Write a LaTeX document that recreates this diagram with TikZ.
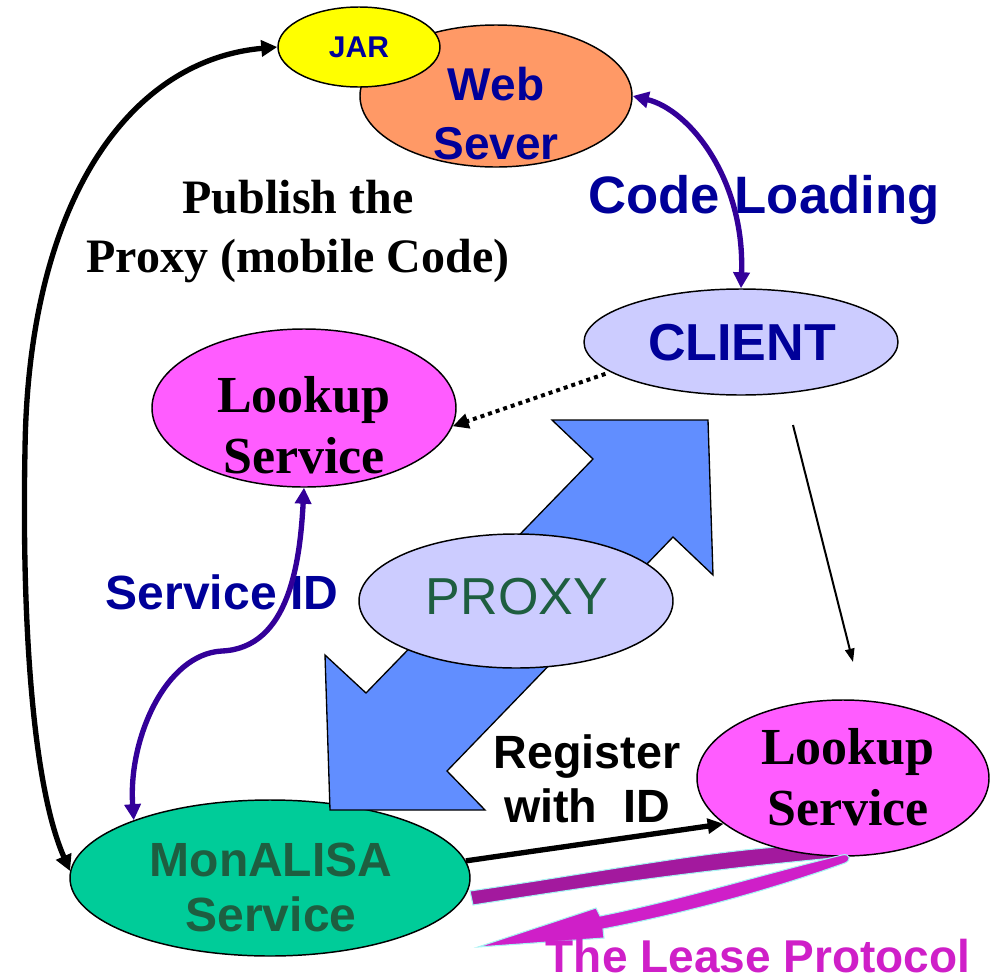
\documentclass[tikz,border=0pt]{standalone}
\usepackage{fontspec}
\setmainfont{Liberation Serif}
\setsansfont{Liberation Sans}
\usetikzlibrary{shapes.geometric,arrows.meta}
\definecolor{webor}{HTML}{FF9966}
\definecolor{jary}{HTML}{FFFF00}
\definecolor{dblue}{HTML}{000099}
\definecolor{purp}{HTML}{330099}
\definecolor{lav}{HTML}{CCCCFF}
\definecolor{mag}{HTML}{FF5CFF}
\definecolor{mgreen}{HTML}{00CC99}
\definecolor{dgreen}{HTML}{1E5E40}
\definecolor{bigblue}{HTML}{618EFF}
\definecolor{leasec}{HTML}{CF1FC8}
\definecolor{bandc}{HTML}{A3199E}
\definecolor{lcyan}{HTML}{A8F4F4}
\tikzset{
  ell/.style={ellipse, draw=black, line width=1.1pt, inner sep=0pt},
  txt/.style={inner sep=0pt, align=center},
  sfb/.style={font=\sffamily\bfseries\fontsize{#1}{#1}\selectfont},
  bigtip/.style={line width=4pt},
  Tri/.tip={Triangle[length=12pt,width=12pt]}
}
\begin{document}
\begin{tikzpicture}[x=0.75pt,y=-0.75pt]
\useasboundingbox (0,0) rectangle (990,979);
\fill[white] (0,0) rectangle (990,979);

% nodes (ellipses)
\node[ell, fill=mgreen, minimum width=300pt, minimum height=117pt] (mon) at (270,878) {};
\node[ell, fill=webor, minimum width=204pt, minimum height=106.5pt] (web) at (496,96) {};
\node[ell, fill=jary, minimum width=121.5pt, minimum height=60pt] (jar) at (359,47) {};
\node[ell, fill=lav, minimum width=235.5pt, minimum height=79.5pt] (client) at (741,342) {};
\node[ell, fill=mag, minimum width=228pt, minimum height=118.5pt] (lk1) at (304,408) {};

% big blue double arrow
\filldraw[fill=bigblue, draw=black, line width=1pt]
  (708,420) -- (552,420) -- (593,459) -- (366,693) -- (325,655) -- (330,810)
  -- (485,810) -- (447,771) -- (673,537) -- (713,575) -- cycle;
\node[ell, fill=lav, minimum width=235.5pt, minimum height=100.5pt] (proxy) at (516,601) {};

% lease protocol shapes
\filldraw[fill=bandc, draw=lcyan, line width=0.8pt]
  (470,891) .. controls (600,872) and (700,852) .. (790,846) -- (845,857)
  .. controls (700,870) and (600,885) .. (473,905) -- cycle;
\node[ell, fill=mag, minimum width=219pt, minimum height=117pt] (lk2) at (843,778) {};
\filldraw[fill=leasec, draw=lcyan, line width=0.8pt]
  (842,855) .. controls (760,875) and (680,900) .. (600,916) -- (596,908) -- (478,947)
  -- (604,938) -- (603,929) .. controls (690,912) and (770,890) .. (845,863)
  .. controls (852,860) and (850,853) .. cycle;

% texts
\node[txt, font=\sffamily\bfseries\fontsize{34.5}{44}\selectfont, text=dblue, anchor=north] (webt) at (496,67) {Web\\Sever};
\node[txt, sfb=22.5, text=dblue, anchor=base] (jart) at (359,57) {JAR};
\node[txt, sfb=39.5, text=dblue, anchor=base] (codel) at (764,213) {Code Loading};
\node[txt, sfb=39, text=dblue, anchor=base] (clientt) at (742,360) {CLIENT};
\node[txt, font=\rmfamily\bfseries\fontsize{39}{46}\selectfont, anchor=north] (lk1t) at (304,376) {Lookup\\Service};
\node[txt, font=\sffamily\fontsize{39}{39}\selectfont, text=dgreen, anchor=base] (proxyt) at (517,614) {PROXY};
\node[txt, sfb=36, text=dblue, anchor=base] (sid) at (222,609) {Service ID};
\node[txt, font=\sffamily\bfseries\fontsize{36}{41}\selectfont, text=dgreen, anchor=north] (mont) at (271,843) {MonALISA\\Service};
\node[txt, font=\sffamily\bfseries\fontsize{35}{40.5}\selectfont, anchor=north] (reg) at (587,734) {Register\\with\ \ ID};
\node[txt, font=\rmfamily\bfseries\fontsize{39}{46}\selectfont, anchor=north] (lk2t) at (848,728) {Lookup\\Service};
\node[txt, font=\rmfamily\bfseries\fontsize{36}{44}\selectfont, anchor=north] (pub) at (298,180) {Publish the\\Proxy (mobile Code)};
\node[txt, sfb=34.5, text=leasec, anchor=base] (lease) at (758,972) {The Lease Protocol};

% connectors
\draw[black, bigtip, Tri-Tri] (mon.178) .. controls (30,780) and (22,600) .. (25,450)
  .. controls (28,200) and (130,60) .. (jar.west);
\draw[purp, bigtip, Tri-Tri] (web.east) .. controls (690,110) and (745,180) .. (client.north);
\draw[purp, bigtip, Tri-Tri] (lk1.south) .. controls (300,560) and (290,648) .. (222,651)
  .. controls (165,654) and (128,740) .. (mon.157);
\draw[black, line width=3pt, dash pattern=on 3pt off 3pt, shorten <=4pt, -{Triangle[length=12pt,width=11pt]}] (client.193) -- (lk1.353);
\coordinate (t1) at (793,425);
\coordinate (t2) at (853,662);
\draw[black, line width=1.5pt, -{Triangle[length=10pt,width=7pt]}] (t1) -- (t2);
\draw[black, bigtip, -{Triangle[length=12pt,width=11pt]}] (mon.5) -- (lk2.201);
\end{tikzpicture}
\end{document}
